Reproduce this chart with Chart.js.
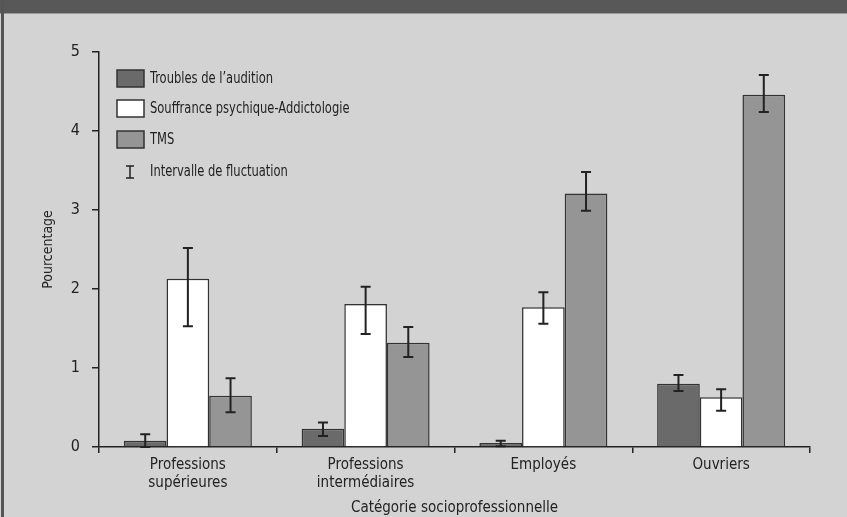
<!DOCTYPE html>
<html lang="fr">
<head>
  <meta charset="UTF-8">
  <title>Pourcentage par catégorie socioprofessionnelle</title>
  <script src="https://cdn.jsdelivr.net/npm/chart.js"></script>
  <style>
    html, body { margin: 0; padding: 0; background: #d3d3d3; }
    #wrap { width: 847px; height: 517px; position: relative; }
  </style>
</head>
<body>
  <div id="wrap">
    <canvas id="chart" width="847" height="517"></canvas>
  </div>
  <script>
    // Data
    const categories = [['Professions', 'supérieures'], ['Professions', 'intermédiaires'], 'Employés', 'Ouvriers'];
    const seriesNames = ['Troubles de l\u2019audition', 'Souffrance psychique-Addictologie', 'TMS'];
    const audition = [0.08, 0.23, 0.05, 0.80];
    const souffrance = [2.13, 1.81, 1.77, 0.63];
    const tms = [0.65, 1.32, 3.21, 4.46];
    // fluctuation intervals (low / high)
    const auditionLow = [0.00, 0.14, 0.01, 0.71];
    const auditionHigh = [0.16, 0.31, 0.08, 0.91];
    const souffranceLow = [1.53, 1.43, 1.56, 0.46];
    const souffranceHigh = [2.52, 2.03, 1.96, 0.73];
    const tmsLow = [0.44, 1.14, 2.99, 4.24];
    const tmsHigh = [0.87, 1.52, 3.48, 4.71];
    const yTicks = [0, 1, 2, 3, 4, 5];

    const FONT = "'Liberation Sans Narrow', 'DejaVu Sans Condensed', 'Roboto Condensed', sans-serif";
    const INK = '#222';
    const barColors = ['#6a6a6a', '#ffffff', '#959595'];
    const lows = [auditionLow, souffranceLow, tmsLow];
    const highs = [auditionHigh, souffranceHigh, tmsHigh];

    // Background, header band and frame
    const framePlugin = {
      id: 'frame',
      beforeDraw(chart) {
        const ctx = chart.ctx;
        ctx.save();
        ctx.fillStyle = '#d3d3d3';
        ctx.fillRect(0, 0, chart.width, chart.height);
        ctx.fillStyle = '#585858';
        ctx.fillRect(0, 0, chart.width, 13);
        ctx.fillStyle = '#9a9a9a';
        ctx.fillRect(0, 13, chart.width, 1);
        ctx.fillStyle = '#555';
        ctx.fillRect(1, 0, 3, chart.height);
        ctx.restore();
      }
    };

    // Error bars drawn from the interval arrays
    const errorBarPlugin = {
      id: 'errorBars',
      afterDatasetsDraw(chart) {
        const ctx = chart.ctx;
        const y = chart.scales.y;
        ctx.save();
        ctx.strokeStyle = INK;
        ctx.lineWidth = 2;
        chart.data.datasets.forEach((ds, i) => {
          const meta = chart.getDatasetMeta(i);
          meta.data.forEach((bar, j) => {
            const x = bar.x;
            const yl = y.getPixelForValue(lows[i][j]);
            const yh = y.getPixelForValue(highs[i][j]);
            ctx.beginPath();
            ctx.moveTo(x, yl); ctx.lineTo(x, yh);
            ctx.moveTo(x - 5, yl); ctx.lineTo(x + 5, yl);
            ctx.moveTo(x - 5, yh); ctx.lineTo(x + 5, yh);
            ctx.stroke();
          });
        });
        ctx.restore();
      }
    };

    // narrow text helper (the original face is a condensed one)
    function narrowText(ctx, text, x, y, squeeze) {
      ctx.save();
      ctx.translate(x, y);
      ctx.scale(squeeze, 1);
      ctx.fillText(text, 0, 0);
      ctx.restore();
    }

    // Legend inside the plot area
    const legendPlugin = {
      id: 'boxLegend',
      afterDraw(chart) {
        const ctx = chart.ctx;
        ctx.save();
        ctx.font = '16px ' + FONT;
        ctx.textBaseline = 'middle';
        ctx.fillStyle = INK;
        const x0 = 117, rowY = [79, 109, 140, 172];
        chart.data.datasets.forEach((ds, i) => {
          ctx.fillStyle = ds.backgroundColor;
          ctx.fillRect(x0, rowY[i] - 9, 27, 17);
          ctx.strokeStyle = '#333';
          ctx.lineWidth = 1.5;
          ctx.strokeRect(x0, rowY[i] - 9, 27, 17);
          ctx.fillStyle = INK;
          narrowText(ctx, ds.label, x0 + 33, rowY[i], 0.8);
        });
        const cx = 130, cy = rowY[3];
        ctx.strokeStyle = INK;
        ctx.lineWidth = 1.5;
        ctx.beginPath();
        ctx.moveTo(cx, cy - 6); ctx.lineTo(cx, cy + 6);
        ctx.moveTo(cx - 4, cy - 6); ctx.lineTo(cx + 4, cy - 6);
        ctx.moveTo(cx - 4, cy + 6); ctx.lineTo(cx + 4, cy + 6);
        ctx.stroke();
        narrowText(ctx, 'Intervalle de fluctuation', x0 + 33, cy, 0.8);
        ctx.restore();
      }
    };

    const ctx = document.getElementById('chart').getContext('2d');
    new Chart(ctx, {
      type: 'bar',
      data: {
        labels: categories,
        datasets: [
          { label: seriesNames[0], data: audition, backgroundColor: barColors[0] },
          { label: seriesNames[1], data: souffrance, backgroundColor: barColors[1] },
          { label: seriesNames[2], data: tms, backgroundColor: barColors[2] }
        ].map(ds => Object.assign(ds, {
          borderColor: '#333',
          borderWidth: 1.5,
          borderSkipped: 'bottom',
          categoryPercentage: 0.72,
          barPercentage: 1.0
        }))
      },
      options: {
        responsive: false,
        animation: false,
        events: [],
        layout: { padding: { top: 52, right: 37, left: 40, bottom: 0 } },
        plugins: {
          legend: { display: false },
          tooltip: { enabled: false }
        },
        scales: {
          x: {
            afterFit(scale) { scale.height = 70; },
            grid: { display: true, drawOnChartArea: false, drawTicks: true, tickLength: 6, color: INK, lineWidth: 1.5, offset: true },
            border: { display: true, color: INK, width: 1.5 },
            ticks: { color: INK, font: { family: FONT, size: 15 }, padding: 3, maxRotation: 0 },
            title: { display: true, text: 'Catégorie socioprofessionnelle', color: INK, font: { family: FONT, size: 15 }, padding: { top: 4, bottom: 0 } }
          },
          y: {
            min: 0,
            max: 5,
            afterFit(scale) { scale.width = 59; },
            afterBuildTicks(scale) { scale.ticks = yTicks.map(v => ({ value: v })); },
            grid: { display: true, drawOnChartArea: false, drawTicks: true, tickLength: 7, color: INK, lineWidth: 1.5 },
            border: { display: true, color: INK, width: 1.5 },
            ticks: { color: INK, font: { family: FONT, size: 16 }, padding: 12 },
            title: { display: true, text: 'Pourcentage', color: INK, font: { family: FONT, size: 14 }, padding: { top: 0, bottom: 0 } }
          }
        }
      },
      plugins: [framePlugin, errorBarPlugin, legendPlugin]
    });
  </script>
</body>
</html>
